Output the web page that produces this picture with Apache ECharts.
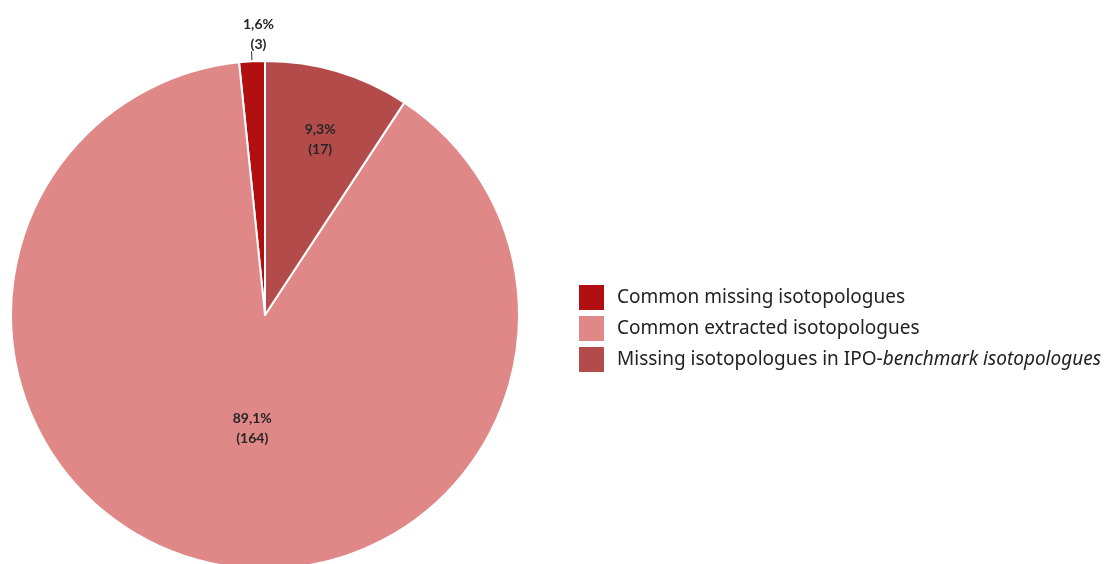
<!DOCTYPE html>
<html><head><meta charset="utf-8">
<script src="https://cdn.jsdelivr.net/npm/echarts@6/dist/echarts.min.js"></script>
<style>html,body{margin:0;padding:0;background:#fff}#c{width:1109px;height:564px}</style>
</head><body><div id="c"></div>
<script>
const categories = ['Common missing isotopologues', 'Common extracted isotopologues', 'Missing isotopologues in IPO-benchmark isotopologues'];
const counts = [3, 164, 17];
const percentLabels = ['1,6%', '89,1%', '9,3%'];
const colors = ['#b10f10', '#e08888', '#b34b4b'];

const chart = echarts.init(document.getElementById('c'));
const labelShift = [[12, -17], [18, -13], [18, -51]];
chart.setOption({
  animation: false,
  legend: {
    orient: 'vertical', left: 572, top: 278,
    itemWidth: 27, itemHeight: 27, itemGap: 2,
    icon: 'rect',
    data: categories,
    textStyle: {
      fontFamily: 'Noto Sans', fontSize: 19, color: '#222', padding: [0, 0, 0, 7], lineHeight: 22,
      rich: { i: { fontFamily: 'Noto Sans', fontSize: 19, fontStyle: 'italic', color: '#222', lineHeight: 22 } }
    },
    formatter: function (name) {
      if (name === categories[2]) return 'Missing isotopologues in IPO-{i|benchmark isotopologues}';
      return name;
    }
  },
  series: [{
    type: 'pie',
    center: [265, 315],
    radius: 254,
    startAngle: 90,
    clockwise: false,
    itemStyle: { borderColor: '#fff', borderWidth: 2 },
    label: {
      position: 'inside',
      fontFamily: 'Lato', fontSize: 14, fontWeight: 'bold', color: '#262626', lineHeight: 20,
      formatter: function (p) { return percentLabels[p.dataIndex] + '\n(' + counts[p.dataIndex] + ')'; }
    },
    labelLayout: function (p) {
      const s = labelShift[p.dataIndex];
      const r = { dx: s[0], dy: s[1] };
      if (p.dataIndex === 0) r.align = 'center';
      return r;
    },
    data: categories.map((c, i) => {
      const d = { name: c, value: counts[i], itemStyle: { color: colors[i] } };
      if (i === 0) {
        d.label = { position: 'outside' };
        d.labelLine = { show: true, length: 10, length2: 0, lineStyle: { color: '#333', width: 1 } };
      }
      return d;
    })
  }]
});
</script></body></html>
